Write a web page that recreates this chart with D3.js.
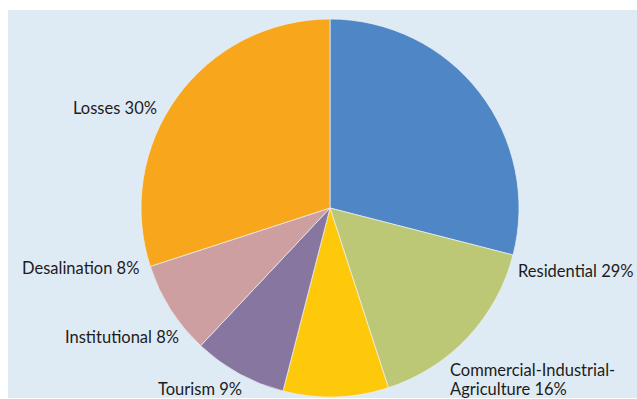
<!DOCTYPE html>
<html>
<head>
<meta charset="utf-8">
<script src="https://cdn.jsdelivr.net/npm/d3@7"></script>
<style>
  html, body { margin: 0; padding: 0; background: #ffffff; }
  svg { display: block; }
</style>
</head>
<body>
<svg id="chart" width="637" height="399"></svg>
<script>
// Water consumption shares by sector (percent)
const sectors = ["Residential", "Commercial-Industrial-Agriculture", "Tourism", "Institutional", "Desalination", "Losses"];
const shares = [29, 16, 9, 8, 8, 30];
const sliceColors = ["#4f86c6", "#bcc876", "#ffc90b", "#87769f", "#cd9fa0", "#f8a71d"];

// Label text lines for each sector
const labelLines = [
  ["Residential 29%"],
  ["Commercial-Industrial-", "Agriculture 16%"],
  ["Tourism 9%"],
  ["Institutional 8%"],
  ["Desalination 8%"],
  ["Losses 30%"]
];

// Label placement: left edge and first baseline of each label block
const labelSpots = [
  { x: 518, y: 277 },
  { x: 450, y: 376 },
  { x: 158, y: 395 },
  { x: 65,  y: 343 },
  { x: 22,  y: 274 },
  { x: 73,  y: 114 }
];

const svg = d3.select("#chart");
const W = 637;

// Light blue panel behind the chart
svg.append("rect")
  .attr("x", 8).attr("y", 10)
  .attr("width", W - 8).attr("height", 388)
  .attr("fill", "#dfebf4");

const cx = 330, cy = 208, radius = 189;

const pie = d3.pie().sort(null).value(d => d.value);
const arc = d3.arc().innerRadius(0).outerRadius(radius);
const color = d3.scaleOrdinal().domain(sectors).range(sliceColors);

const data = sectors.map((s, i) => ({ name: s, value: shares[i] }));

const g = svg.append("g").attr("transform", `translate(${cx},${cy})`);
g.selectAll("path")
  .data(pie(data))
  .join("path")
  .attr("d", arc)
  .attr("fill", d => color(d.data.name))
  .attr("stroke", "#edf1f4")
  .attr("stroke-width", 0.7);

const labels = svg.append("g")
  .attr("font-family", "Lato, 'Open Sans', sans-serif")
  .attr("font-size", 16.5)
  .attr("fill", "#1e1b1c");

labels.selectAll("text")
  .data(labelLines)
  .join("text")
  .attr("x", (d, i) => labelSpots[i].x)
  .attr("y", (d, i) => labelSpots[i].y)
  .each(function(lines, i) {
    d3.select(this).selectAll("tspan")
      .data(lines)
      .join("tspan")
      .attr("x", labelSpots[i].x)
      .attr("dy", (l, j) => j === 0 ? 0 : 19)
      .text(l => l);
  });
</script>
</body>
</html>
